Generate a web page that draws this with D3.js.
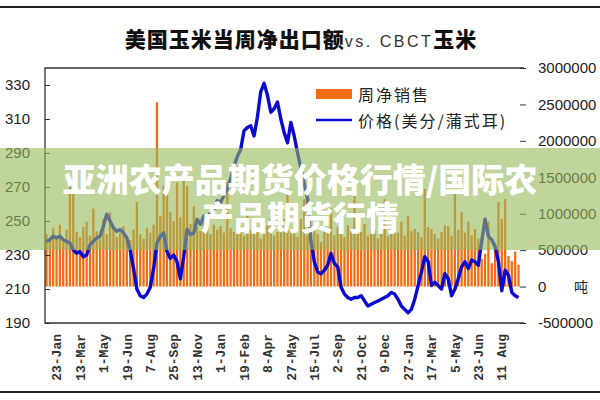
<!DOCTYPE html>
<html><head><meta charset="utf-8">
<script src="https://cdn.jsdelivr.net/npm/d3@7"></script>
<style>body{margin:0;background:#fff}svg{display:block}</style>
</head><body><svg id="c" width="600" height="400"></svg>
<script>
// ---- data ----
const tickLabels = ["23-Jan","13-Mar","1-May","19-Jun","7-Aug","25-Sep","13-Nov","1-Jan","19-Feb","8-Apr",
  "27-May","15-Jul","2-Sep","21-Oct","9-Dec","27-Jan","17-Mar","5-May","23-Jun","11 Aug"];
const leftTicks = [190,210,230,250,270,290,310,330];
const rightTicks = [-500000,0,500000,1000000,1500000,2000000,2500000,3000000];
const seriesNames = ["周净销售", "价格(美分/蒲式耳)"];
const unitLabel = "吨";
const bannerLines = ["亚洲农产品期货价格行情/国际农", "产品期货行情"];
// CBOT corn price, US cents per bushel, weekly
const priceValues = [238,239,241,240,241,239,238,237,233,231,232,229,230,236,238,240,241,247,254,250,
  246,244,245,243,240,233,222,210,206,205,207,211,222,237,241,243,232,228,230,226,
  216,229,245,242,243,251,248,253,251,255,257,262,261,265,269,275,282,288,292,303,
  305,306,300,311,326,331,324,314,316,320,310,302,296,308,300,290,281,272,263,238,
  226,220,219,221,224,231,225,223,211,207,205,204,205,205,206,203,200,201,202,203,
  204,205,206,208,207,204,200,198,196,198,204,212,220,229,226,212,214,212,210,219,
  216,206,210,216,223,226,222,227,226,224,238,251,241,239,235,226,209,221,218,208,
  206,205];
// US corn weekly net export sales, tonnes
const salesValues = [720000,650000,800000,700000,850000,620000,780000,1440000,1300000,750000,
  680000,820000,890000,700000,1070000,760000,660000,930000,720000,1020000,
  800000,680000,740000,830000,700000,640000,780000,1160000,720000,660000,
  800000,740000,850000,2530000,970000,1380000,1500000,1020000,900000,1430000,
  950000,1470000,1380000,860000,1100000,830000,760000,900000,970000,720000,
  850000,780000,830000,740000,1430000,800000,750000,880000,830000,700000,
  1020000,780000,930000,790000,660000,720000,840000,930000,700000,750000,
  820000,930000,1300000,770000,750000,680000,930000,1200000,700000,640000,
  780000,720000,610000,800000,740000,1070000,700000,820000,790000,680000,
  840000,760000,1300000,720000,750000,860000,700000,970000,780000,660000,
  750000,1200000,690000,800000,970000,740000,890000,700000,970000,760000,
  790000,750000,680000,1340000,820000,790000,720000,660000,750000,840000,
  830000,700000,1310000,780000,1020000,740000,890000,700000,790000,660000,
  380000,450000,890000,320000,600000,1160000,930000,1200000,420000,350000,
  480000,300000];

// ---- chart ----
const weeks = d3.timeThursday.range(new Date(2003,0,2), new Date(2005,8,16));
const svg = d3.select("#c");
const L = 45, R = 520, T = 68, B = 323;

const x = d3.scaleBand().domain(weeks.map(d => +d)).range([L, R]).paddingInner(0.32).paddingOuter(0.1);
const yL = d3.scaleLinear().domain([190, 340]).range([B, T]);
const yR = d3.scaleLinear().domain([-500000, 3000000]).range([B, T]);
const cx = d => x(+d) + x.bandwidth() / 2;

// outer rules
svg.append("line").attr("x1",0).attr("x2",600).attr("y1",7).attr("y2",7).attr("stroke","#222").attr("stroke-width",2);
svg.append("line").attr("x1",0).attr("x2",600).attr("y1",392).attr("y2",392).attr("stroke","#222").attr("stroke-width",2);

// title
const title = svg.append("text").attr("x",301).attr("y",47).attr("text-anchor","middle")
  .attr("font-family","'Noto Sans CJK SC', sans-serif").attr("fill","#111");
title.append("tspan").attr("font-size",21).attr("font-weight",900).attr("letter-spacing",1).text("美国玉米当周净出口额");
title.append("tspan").attr("font-size",16).attr("font-weight",300).attr("font-family","'Liberation Sans', Arial, sans-serif")
  .attr("letter-spacing",2.5).attr("fill","#333").text("vs. CBCT");
title.append("tspan").attr("font-size",21).attr("font-weight",900).attr("letter-spacing",1).text("玉米");

// bars
const barG = svg.append("g");
barG.selectAll("rect").data(salesValues).join("rect")
  .attr("x", (d,i) => x(+weeks[i]))
  .attr("width", x.bandwidth())
  .attr("y", d => Math.min(yR(d), yR(0)))
  .attr("height", d => Math.abs(yR(d) - yR(0)))
  .attr("fill", "#f26c12");

// price line
const line = d3.line().x((d,i) => cx(weeks[i])).y(d => yL(d)).curve(d3.curveLinear);
svg.append("path").datum(priceValues).attr("d", line)
  .attr("fill","none").attr("stroke","#0a0ad0").attr("stroke-width",3.4).attr("stroke-linejoin","round");

// frame
const frame = svg.append("g").attr("stroke","#333").attr("stroke-width",1.3).attr("fill","none");
frame.append("path").attr("d", `M${R+4},${T}H${L}V${B}H${R+4}`);

// left axis
const la = svg.append("g").attr("transform",`translate(${L},0)`)
  .call(d3.axisRight(yL).tickValues(leftTicks).tickSize(5).tickFormat(""));
la.select(".domain").remove();
la.selectAll("line").attr("stroke","#333");
svg.append("g").selectAll("text").data(leftTicks).join("text")
  .attr("x", 30).attr("y", d => yL(d)).attr("dy","0.36em").attr("text-anchor","end")
  .attr("font-family","'Liberation Sans', Arial, sans-serif").attr("font-size",15).attr("fill","#222")
  .text(d => d);

// right axis
const ra = svg.append("g").attr("transform",`translate(${R},0)`)
  .call(d3.axisRight(yR).tickValues(rightTicks).tickSize(6).tickFormat(d => d));
ra.select(".domain").remove();
ra.selectAll("line").attr("stroke","#333");
ra.selectAll("text").attr("x",18).attr("font-family","'Liberation Sans', Arial, sans-serif")
  .attr("font-size",15).attr("fill","#222");
svg.append("text").attr("x",574).attr("y",yR(0)).attr("dy","0.36em")
  .attr("font-family","'Noto Sans CJK SC', sans-serif").attr("font-size",14).attr("fill","#222").text(unitLabel);

// bottom axis labels
const tickWeeks = tickLabels.map((t,k) => weeks[3 + 7*k]);
const ba = svg.append("g").attr("transform",`translate(0,${B})`)
  .call(d3.axisBottom(x).tickValues(tickWeeks.map(d => +d)).tickSize(0).tickFormat((d,i) => tickLabels[i]));
ba.select(".domain").remove();
ba.selectAll("text")
  .attr("transform","rotate(-90)")
  .attr("x",-11).attr("y",0).attr("dy","0.36em")
  .attr("text-anchor","end")
  .attr("font-family","'Liberation Mono', monospace").attr("font-weight","bold")
  .attr("font-size",13).attr("fill","#333");

// legend
const lg = svg.append("g").attr("font-family","'Noto Sans CJK SC', sans-serif").attr("font-size",16)
  .attr("letter-spacing",2).attr("fill","#222");
lg.append("rect").attr("x",316).attr("y",89).attr("width",36).attr("height",10).attr("fill","#f26c12");
lg.append("line").attr("x1",316).attr("x2",352).attr("y1",120).attr("y2",120).attr("stroke","#0a0ad0").attr("stroke-width",2.5);
lg.selectAll("text").data(seriesNames).join("text")
  .attr("x",358).attr("y",(d,i) => 95 + i*26).attr("dy","0.35em").text(d => d);

// overlay banner
svg.append("rect").attr("x",0).attr("y",148).attr("width",600).attr("height",102)
  .attr("fill","rgb(150,185,90)").attr("fill-opacity",0.6);
svg.append("g").selectAll("text").data(bannerLines).join("text")
  .attr("x",300).attr("y",(d,i) => 192 + i*38).attr("text-anchor","middle")
  .attr("font-family","'Noto Sans CJK SC', sans-serif").attr("font-weight",900)
  .attr("font-size",33).attr("fill","#fff")
  .text(d => d);
</script></body></html>
